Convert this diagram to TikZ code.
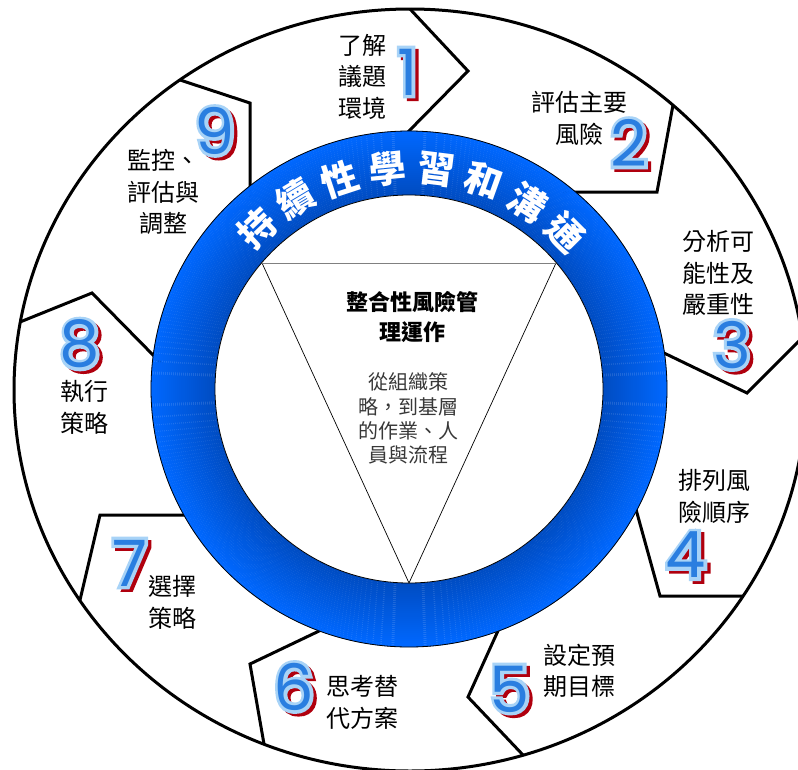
\documentclass[tikz,border=0pt]{standalone}
\usepackage{fontspec}
\newfontfamily\cjk{Noto Sans CJK TC}
\newfontfamily\numfont{Poppins}
\newfontfamily\numglowfont[FakeBold=10]{Poppins}
\newfontfamily\numshadowfont[FakeBold=9]{Poppins}
\usetikzlibrary{calc}
\definecolor{ringD}{HTML}{004CC2}
\definecolor{ringB}{HTML}{0068FF}
\definecolor{numBlue}{HTML}{2A7EE0}
\definecolor{numGlow}{HTML}{A8D3F7}
\definecolor{numRed}{HTML}{B0000E}
\definecolor{bodygray}{HTML}{383838}
\tikzset{
  segline/.style={line width=3pt, line join=miter, black},
  lbl/.style={font=\cjk\fontsize{24}{31.5}\selectfont, align=center, inner sep=0pt},
  ringtxt/.style={font=\cjk\bfseries\fontsize{37}{37}\selectfont, text=white, inner sep=0pt},
  numtxt/.style={font=\numfont\fontsize{64}{64}\selectfont, inner sep=0pt, text=numBlue},
  numglow/.style={font=\numglowfont\fontsize{64}{64}\selectfont, inner sep=0pt, text=numGlow},
  numshadow/.style={font=\numshadowfont\fontsize{64}{64}\selectfont, inner sep=0pt, text=numRed},
  titletxt/.style={font=\cjk\bfseries\fontsize{22}{30}\selectfont, align=center, inner sep=0pt},
  bodytxt/.style={font=\cjk\fontsize{20}{24.3}\selectfont, align=center, inner sep=0pt, text=bodygray}
}
\newcommand\glownum[4]{%
  \node[numshadow] (#1s) at ({#2+3.5},{#3+3}) {#4};
  \node[numglow] (#1g) at (#2,#3) {#4};
  \node[numtxt] (#1) at (#2,#3) {#4};
}
\begin{document}
\begin{tikzpicture}[x=1pt,y=-1pt]
\useasboundingbox (0,0) rectangle (798,769);
\clip (0,0) rectangle (798,769);
\fill[white] (0,0) rectangle (798,769);
\coordinate (O) at (410,390);
\coordinate (C) at (409,389);
% segment boundary coordinates: ring point, tip, outer point
\coordinate (r1) at (408,132); \coordinate (t1) at (468,71);  \coordinate (o1) at (410,9);
\coordinate (r2) at (573,192); \coordinate (t2) at (657,192); \coordinate (o2) at (673,105);
\coordinate (r3) at (664,353); \coordinate (t3) at (747,393); \coordinate (o3) at (802,338);
\coordinate (r4) at (637,513); \coordinate (t4) at (660,596); \coordinate (o4) at (743,596);
\coordinate (r5) at (497,633); \coordinate (t5) at (468,697); \coordinate (o5) at (523,755);
\coordinate (r6) at (317,632); \coordinate (t6) at (250,664); \coordinate (o6) at (264,744);
\coordinate (r7) at (183,515); \coordinate (t7) at (100,515); \coordinate (o7) at (80,600);
\coordinate (r8) at (155,357); \coordinate (t8) at (92,293);  \coordinate (o8) at (20,322);
\coordinate (r9) at (250,187); \coordinate (t9) at (250,103); \coordinate (o9) at (180,80);
\foreach \i in {1,...,9}{
  \draw[segline] ($(r\i)!-10pt!(t\i)$) -- (t\i) -- (o\i);
}
% outer ellipse
\draw[line width=3pt] (O) ellipse [x radius=396pt, y radius=381pt];
% blue ring
\foreach \i in {0,...,31}{
  \pgfmathsetmacro\rr{195+2*\i}
  \pgfmathsetmacro\pc{100*\i/31}
  \draw[line width=2.3pt, color=ringB!\pc!ringD] (C) circle [radius=\rr pt];
}
\draw[line width=0.8pt] (C) circle [radius=258pt];
\fill[white] (C) circle [radius=194pt];
\draw[line width=0.8pt] (C) circle [radius=194pt];
% triangle
\coordinate (tA) at (262,263); \coordinate (tB) at (556,263); \coordinate (tC) at (409,583);
\draw[line width=0.7pt] (tA) -- (tC) -- (tB);
\draw[line width=1pt, gray] (tA) -- (tB);
\node[titletxt] (title) at (412,317) {整合性風險管\\理運作};
\node[bodytxt] (body) at (408.5,418.5) {從組織策\\略，到基層\\的作業、人\\員與流程};
% ring text
\foreach \ch [count=\k from 0] in {持,續,性,學,習,和,溝,通}{
  \pgfmathsetmacro\ang{133.5-12.65*\k}
  \pgfmathsetmacro\rot{\ang-90}
  \node[ringtxt, rotate=\rot] (rt\k) at ({409+221*cos(\ang)},{389-221*sin(\ang)}) {\ch};
}
% labels
\node[lbl] (l1) at (362,76.5) {了解\\議題\\環境};
\node[lbl] (l2) at (579,118.5) {評估主要\\風險};
\node[lbl] (l3) at (718,273) {分析可\\能性及\\嚴重性};
\node[lbl] (l4) at (714,496.5) {排列風\\險順序};
\node[lbl] (l5) at (579,671) {設定預\\期目標};
\node[lbl] (l6) at (362,702.5) {思考替\\代方案};
\node[lbl] (l7) at (172,602.5) {選擇\\策略};
\node[lbl] (l8) at (84,407.5) {執行\\策略};
\node[lbl] (l9) at (163,192) {監控、\\評估與\\調整};
% numbers
\glownum{n1}{408}{72}{1}
\glownum{n2}{629}{143}{2}
\glownum{n3}{732}{345}{3}
\glownum{n4}{686}{555}{4}
\glownum{n5}{510}{689}{5}
\glownum{n6}{294}{687}{6}
\glownum{n7}{130}{563}{7}
\glownum{n8}{80}{344}{8}
\glownum{n9}{215}{131}{9}
\end{tikzpicture}
\end{document}
